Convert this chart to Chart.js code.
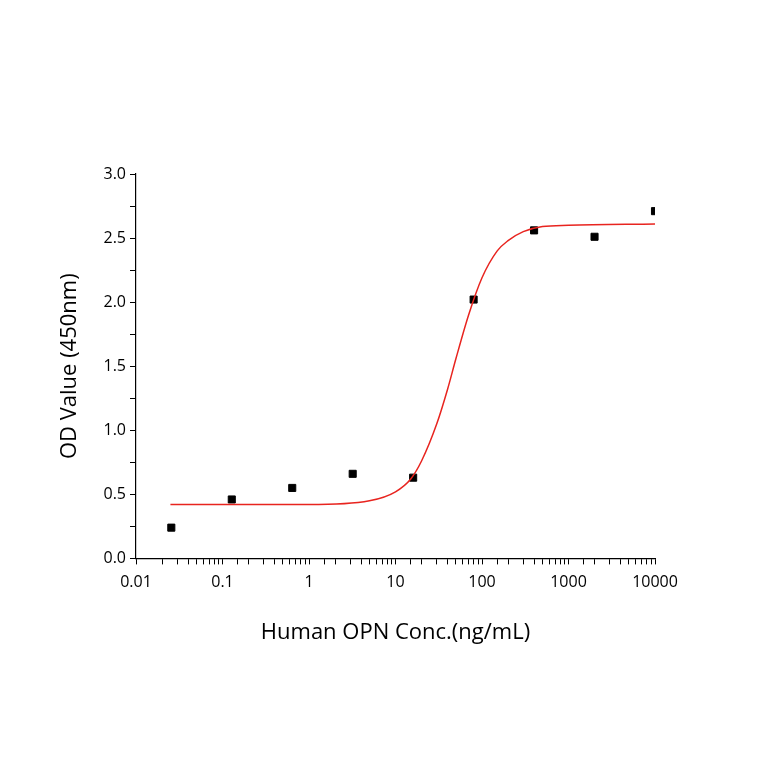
<!DOCTYPE html>
<html>
<head>
<meta charset="utf-8">
<script src="https://cdn.jsdelivr.net/npm/chart.js@4/dist/chart.umd.min.js"></script>
<style>
  body { margin: 0; background: #fff; }
  canvas { display: block; }
</style>
</head>
<body>
<canvas id="myChart" width="764" height="764"></canvas>
<script>
// measured points
var concX = [0.0256, 0.128, 0.64, 3.2, 16, 80, 400, 2000, 10000];
var odY = [0.24, 0.46, 0.55, 0.66, 0.63, 2.02, 2.56, 2.51, 2.71];
// fitted curve
var fitX = [0.025, 1, 5, 10, 15, 20, 30, 40, 50, 70, 100, 150, 200, 300, 500, 1000, 10000];
var fitY = [0.42, 0.42, 0.45, 0.52, 0.62, 0.76, 1.05, 1.32, 1.56, 1.9, 2.19, 2.4, 2.48, 2.55, 2.59, 2.6, 2.61];

var font = "'Open Sans', 'Noto Sans', sans-serif";

var ctx = document.getElementById("myChart");
var myChart = new Chart(ctx, {
  type: "scatter",
  data: {
    datasets: [
      {
        data: fitX.map((x, i) => ({ x: x, y: fitY[i] })),
        showLine: true,
        borderColor: "#e8241f",
        borderWidth: 1.5,
        pointRadius: 0,
        cubicInterpolationMode: "monotone",
      },
      {
        data: concX.map((x, i) => ({ x: x, y: odY[i] })),
        backgroundColor: "#000",
        borderColor: "#000",
        pointStyle: "rect",
        pointRadius: 5,
      },
    ],
  },
  options: {
    responsive: false,
    animation: false,
    layout: { padding: { left: 53, top: 174, right: 109, bottom: 114 } },
    plugins: { legend: { display: false }, tooltip: { enabled: false } },
    scales: {
      x: {
        type: "logarithmic",
        min: 0.01,
        max: 10000,
        border: { color: "#000", width: 1.2 },
        grid: { drawOnChartArea: false, drawTicks: true, tickLength: 6, color: "#000" },
        ticks: {
          autoSkip: false,
          maxRotation: 0,
          padding: 8,
          color: "#000",
          font: { family: font, size: 16 },
          callback: (v) => {
            var l = Math.log10(v);
            return Math.abs(l - Math.round(l)) < 1e-6 ? String(Number(v.toPrecision(1))) : "";
          },
        },
        title: {
          display: true,
          text: "Human OPN Conc.(ng/mL)",
          color: "#000",
          font: { family: font, size: 22 },
          padding: { top: 20 },
        },
      },
      y: {
        min: 0,
        max: 3,
        afterFit: (s) => { s.width = 83; },
        border: { color: "#000", width: 1.2 },
        grid: { drawOnChartArea: false, drawTicks: true, tickLength: 6, color: "#000" },
        ticks: {
          stepSize: 0.25,
          autoSkip: false,
          padding: 4,
          color: "#000",
          font: { family: font, size: 16 },
          callback: (v) => (Math.abs(v * 2 - Math.round(v * 2)) < 1e-6 ? v.toFixed(1) : ""),
        },
        title: {
          display: true,
          text: "OD Value (450nm)",
          color: "#000",
          font: { family: font, size: 22 },
        },
      },
    },
  },
});
</script>
</body>
</html>
